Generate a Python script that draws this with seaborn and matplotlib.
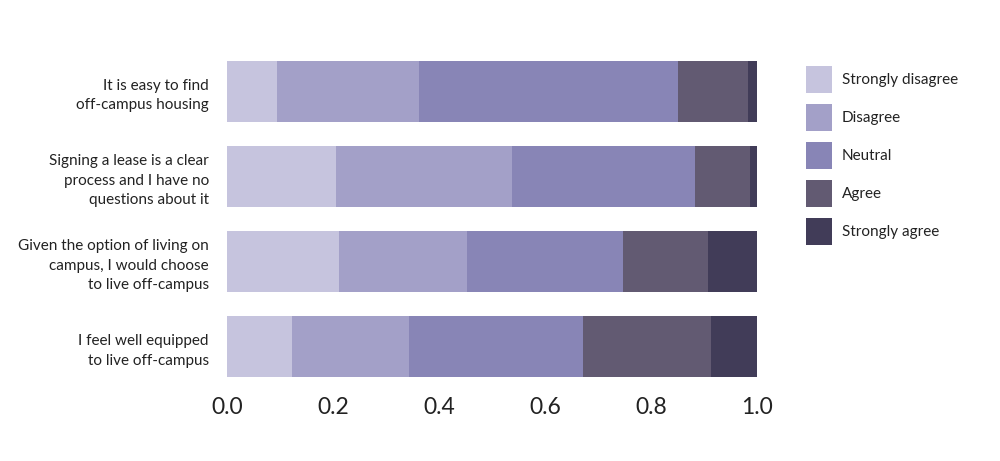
import numpy as np
import pandas as pd
import matplotlib
matplotlib.use("Agg")
import matplotlib.pyplot as plt
from matplotlib.patches import Patch
import seaborn as sns

# survey statements (top to bottom)
statements = [
    "It is easy to find\noff-campus housing",
    "Signing a lease is a clear\nprocess and I have no\nquestions about it",
    "Given the option of living on\ncampus, I would choose\nto live off-campus",
    "I feel well equipped\nto live off-campus",
]

# share of answers per response level
strongly_disagree = [0.094, 0.206, 0.211, 0.122]
disagree = [0.268, 0.331, 0.241, 0.221]
neutral = [0.489, 0.346, 0.295, 0.328]
agree = [0.132, 0.103, 0.161, 0.242]
strongly_agree = [0.017, 0.014, 0.092, 0.087]

levels = ["Strongly disagree", "Disagree", "Neutral", "Agree", "Strongly agree"]
colors = ["#c6c4de", "#a3a0c8", "#8885b6", "#625a72", "#413c58"]

df = pd.DataFrame({
    "statement": statements,
    "Strongly disagree": strongly_disagree,
    "Disagree": disagree,
    "Neutral": neutral,
    "Agree": agree,
    "Strongly agree": strongly_agree,
})
# cumulative sums so that bars can be overdrawn from right to left
cum = df[levels].cumsum(axis=1)
cum["statement"] = df["statement"]

sns.set_style("white")
plt.rcParams["font.family"] = ["Lato", "DejaVu Sans"]
plt.rcParams["text.color"] = "#222222"

fig = plt.figure(figsize=(10, 4.61), dpi=100)
ax = fig.add_axes([0.227, 0.156, 0.53, 0.738])

for level, color in zip(levels[::-1], colors[::-1]):
    sns.barplot(data=cum, x=level, y="statement", color=color, width=0.72,
                linewidth=0, saturation=1, orient="h", ax=ax)

ax.set_xlim(0, 1)
ax.set_ylim(3.5, -0.5)
ax.set_xticks([0, 0.2, 0.4, 0.6, 0.8, 1.0])
ax.set_xticklabels(["0.0", "0.2", "0.4", "0.6", "0.8", "1.0"])
ax.set_xlabel("")
ax.set_ylabel("")
ax.tick_params(axis="x", length=0, pad=6, labelsize=16.5, labelcolor="#222222")
ax.tick_params(axis="y", length=0, pad=13, labelsize=11, labelcolor="#222222")
for lab in ax.get_yticklabels():
    lab.set_horizontalalignment("right")
    lab.set_multialignment("right")
    lab.set_linespacing(1.5)
sns.despine(ax=ax, left=True, bottom=True)

handles = [Patch(facecolor=c, edgecolor="none", label=l) for l, c in zip(levels, colors)]
fig.legend(handles=handles, loc="upper left", bbox_to_anchor=(0.806, 0.857),
           frameon=False, fontsize=11, borderpad=0, borderaxespad=0,
           handlelength=1.7, handleheight=2.34, handletextpad=0.65,
           labelspacing=0.72)

fig.savefig("out.png", dpi=100)
